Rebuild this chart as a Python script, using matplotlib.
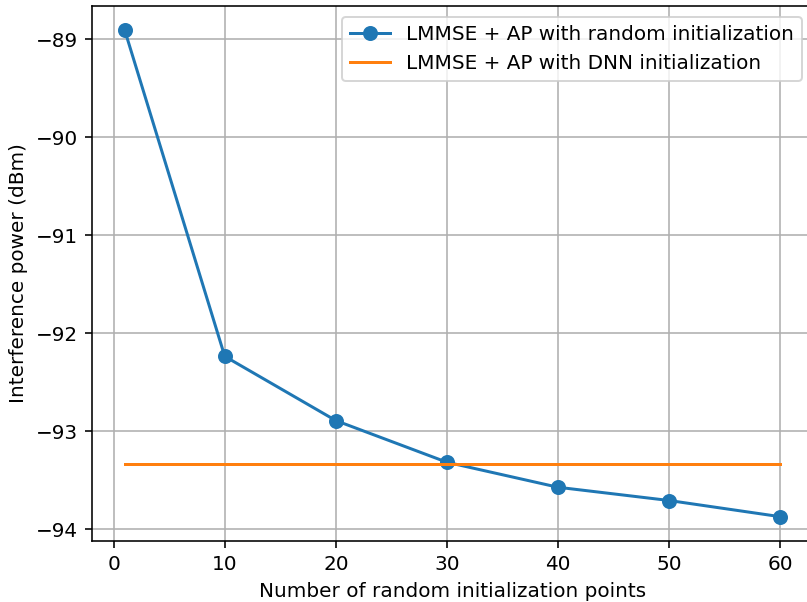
import matplotlib
matplotlib.use("Agg")
import matplotlib.pyplot as plt

n_points = [1, 10, 20, 30, 40, 50, 60]
power_random = [-88.91, -92.235, -92.89, -93.315, -93.57, -93.705, -93.87]
power_dnn = -93.33

fig = plt.figure(figsize=(807 / 144, 602 / 144), dpi=144)
ax = fig.add_axes([92 / 807, 61 / 602, 721 / 807, 535 / 602])

ax.plot(n_points, power_random, marker='o', markersize=6.5,
        label='LMMSE + AP with random initialization')
ax.plot([n_points[0], n_points[-1]], [power_dnn, power_dnn],
        label='LMMSE + AP with DNN initialization')

ax.set_xlabel('Number of random initialization points')
ax.set_ylabel('Interference power (dBm)')
ax.set_xticks([0, 10, 20, 30, 40, 50, 60])
ax.set_yticks([-94, -93, -92, -91, -90, -89])
ax.grid(True)
ax.legend(loc='upper right', bbox_to_anchor=(802 / 807, 1 - 17 / 602),
          bbox_transform=fig.transFigure, borderaxespad=0)

fig.savefig('out.png', dpi=144)
